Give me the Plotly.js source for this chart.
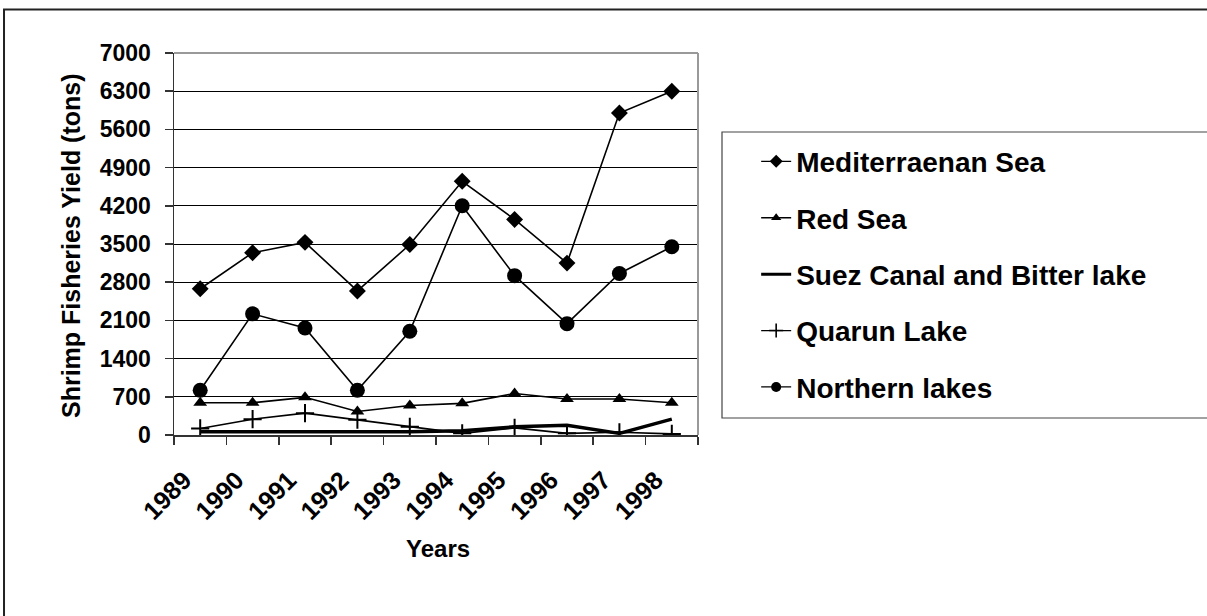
<!DOCTYPE html>
<html>
<head>
<meta charset="utf-8">
<script src="https://cdn.plot.ly/plotly-3.0.1.min.js"></script>
<style>
html,body{margin:0;padding:0;background:#fff;}
#chart{width:1207px;height:616px;}
</style>
</head>
<body>
<div id="chart"></div>
<script>
const years = ['1989','1990','1991','1992','1993','1994','1995','1996','1997','1998'];
const mediterranean = [2680, 3340, 3530, 2640, 3490, 4650, 3950, 3150, 5900, 6300];
const redSea = [590, 590, 690, 430, 540, 580, 760, 660, 660, 590];
const suezCanal = [60, 60, 60, 60, 60, 80, 150, 180, 30, 290];
const quarunLake = [120, 290, 400, 280, 150, 30, 130, 30, 50, 20];
const northernLakes = [820, 2220, 1960, 820, 1900, 4200, 2920, 2040, 2960, 3450];
const yTicks = [0, 700, 1400, 2100, 2800, 3500, 4200, 4900, 5600, 6300, 7000];
const seriesNames = ['Mediterraenan Sea', 'Red Sea', 'Suez Canal and Bitter lake', 'Quarun Lake', 'Northern lakes'];
const xTitle = 'Years';
const yTitle = 'Shrimp Fisheries Yield (tons)';

const FONT = 'Arial, "Liberation Sans", sans-serif';
const styles = [
  {mode:'lines+markers', lw:1.6, marker:{symbol:'diamond', size:13, color:'#000'}, lmarker:{symbol:'diamond', size:10, color:'#000'}},
  {mode:'lines+markers', lw:1.6, marker:{symbol:'triangle-up', size:12, color:'#000'}, lmarker:{symbol:'triangle-up', size:9, color:'#000'}},
  {mode:'lines', lw:3.5},
  {mode:'lines+markers', lw:1.6, marker:{symbol:'cross-thin', size:13, color:'#000', line:{color:'#000', width:2}}, lmarker:{symbol:'cross-thin', size:10, color:'#000', line:{color:'#000', width:1.6}}},
  {mode:'lines+markers', lw:1.6, marker:{symbol:'circle', size:15, color:'#000'}, lmarker:{symbol:'circle', size:10, color:'#000'}}
];
const values = [mediterranean, redSea, suezCanal, quarunLake, northernLakes];

const data = [];
values.forEach((v, i) => {
  const s = styles[i];
  const t = {type:'scatter', mode:s.mode, name:seriesNames[i], x:years, y:v, showlegend:false,
             line:{color:'#000', width:s.lw}};
  if (s.marker) t.marker = s.marker;
  data.push(t);
});
// legend entries (no data points, same styles with small legend markers)
values.forEach((v, i) => {
  const s = styles[i];
  const t = {type:'scatter', mode:s.mode, name:seriesNames[i], x:[null], y:[null], showlegend:true,
             legendgroup:'g'+i, line:{color:'#000', width: i===2 ? 3 : 1.3}};
  if (s.lmarker) t.marker = s.lmarker;
  data.push(t);
});

const layout = {
  width: 1207, height: 616,
  margin: {l: 174, r: 509, t: 53, b: 181},
  paper_bgcolor: '#fff', plot_bgcolor: '#fff',
  font: {family: FONT, color: '#000', weight: 'bold'},
  showlegend: true,
  legend: {
    x: 1.111, xanchor: 'left', y: 0.781, yanchor: 'top',
    bgcolor: 'rgba(0,0,0,0)', borderwidth: 0,
    font: {family: FONT, size: 28, color: '#000', weight: 'bold'},
    tracegroupgap: 17, itemwidth: 30
  },
  xaxis: {
    type: 'category', range: [-0.5, 9.5],
    showgrid: false, zeroline: false,
    showline: true, linecolor: '#333', linewidth: 1.5,
    ticks: 'outside', tickson: 'boundaries', ticklen: 8, tickcolor: '#333', tickwidth: 1.5,
    tickangle: -45,
    tickfont: {family: FONT, size: 25, color: '#000', weight: 'bold'},
    ticklabelstandoff: 19, ticklabelshift: -16,
    fixedrange: true
  },
  yaxis: {
    range: [0, 7000], tickvals: yTicks, ticktext: yTicks.map(String),
    showgrid: true, gridcolor: '#000', gridwidth: 1,
    zeroline: false,
    showline: true, linecolor: '#333', linewidth: 1.5,
    ticks: 'outside', ticklen: 8, tickcolor: '#333', tickwidth: 1.5,
    tickfont: {family: FONT, size: 23, color: '#000', weight: 'bold'},
    ticklabelstandoff: 9,
    fixedrange: true
  },
  annotations: [
    {text: xTitle, xref:'paper', yref:'paper', x:(438-174)/524, y:(435-548)/382, xanchor:'center', yanchor:'middle',
     showarrow:false, font:{family: FONT, size: 24, color:'#000', weight:'bold'}},
    {text: yTitle, xref:'paper', yref:'paper', x:(71-174)/524, y:(435-246)/382, xanchor:'center', yanchor:'middle',
     textangle:-90, showarrow:false, font:{family: FONT, size: 25, color:'#000', weight:'bold'}}
  ],
  shapes: [
    {type:'line', xref:'paper', yref:'paper', x0:0, x1:1, y0:1, y1:1, line:{color:'#999', width:2}, layer:'above'},
    {type:'line', xref:'paper', yref:'paper', x0:1, x1:1, y0:0, y1:1, line:{color:'#999', width:2}, layer:'above'},
    {type:'rect', xref:'paper', yref:'paper', x0:1.0458, x1:2.0, y0:0.0445, y1:0.7932, line:{color:'#444', width:1.2}, fillcolor:'rgba(0,0,0,0)', layer:'below'},
    {type:'rect', xref:'paper', yref:'paper', x0:-0.3244, x1:2.0, y0:-0.6, y1:1.1139, line:{color:'#222', width:2}, fillcolor:'rgba(0,0,0,0)', layer:'below'}
  ]
};

Plotly.newPlot('chart', data, layout, {displayModeBar: false, staticPlot: true});
</script>
</body>
</html>
